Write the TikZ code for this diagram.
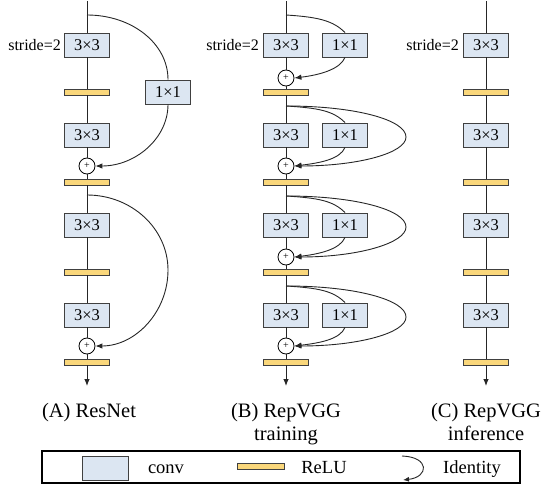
\documentclass[tikz,border=0pt]{standalone}
\usepackage{fontspec}
\setmainfont{Liberation Serif}
\usetikzlibrary{arrows.meta}
\definecolor{convfill}{HTML}{DCE6F2}
\definecolor{relufill}{HTML}{FAD77B}
\definecolor{edgegray}{HTML}{404040}
\tikzset{
 conv/.style={draw=edgegray, fill=convfill, line width=0.9pt, minimum width=45pt, minimum height=24pt, inner sep=0pt, font=\fontsize{16.5}{18}\selectfont},
 relu/.style={draw=edgegray, fill=relufill, line width=0.9pt, minimum width=45pt, minimum height=6pt, inner sep=0pt},
 sumnode/.style={draw=black, fill=white, circle, minimum size=16pt, inner sep=0pt, line width=0.8pt, font=\fontsize{10}{10}\selectfont},
 wire/.style={draw=black!85, line width=0.9pt},
 arr/.style={wire, -{Latex[length=7pt,width=5.5pt]}},
 stridelab/.style={anchor=east, inner sep=0pt, font=\fontsize{16}{18}\selectfont},
 caption/.style={anchor=base, inner sep=0pt, font=\fontsize{20.5}{23}\selectfont},
 legtext/.style={anchor=base, inner sep=0pt, font=\fontsize{18.5}{20}\selectfont},
}
\begin{document}
\begin{tikzpicture}[x=1pt,y=-1pt]
\useasboundingbox (0,0) rectangle (543,484);
% ---------- Column A : ResNet ----------
\coordinate (A0) at (87,1);
\node[conv] (Ab1) at (87,45) {3×3};
\node[relu] (Ar1) at (87,92) {};
\node[conv] (Ab2) at (87,135) {3×3};
\node[sumnode] (Ap1) at (87,166) {+};
\node[relu] (Ar2) at (87,182) {};
\node[conv] (Ab3) at (87,225) {3×3};
\node[relu] (Ar3) at (87,272) {};
\node[conv] (Ab4) at (87,315) {3×3};
\node[sumnode] (Ap2) at (87,346) {+};
\node[relu] (Ar4) at (87,362) {};
\coordinate (Aend) at (87,386);
\node[conv] (Ax1) at (168,92) {1×1};
\coordinate (As1) at (87,15);
\coordinate (As2) at (87,195);
\coordinate (Am2) at (168,270);
\node[stridelab] (Ast) at ([xshift=-3pt]Ab1.west) {stride=2};
\draw[arr] (A0) -- (Ab1) -- (Ar1) -- (Ab2) -- (Ap1) -- (Ar2) -- (Ab3) -- (Ar3) -- (Ab4) -- (Ap2) -- (Ar4) -- (Aend);
\draw[wire] (As1) .. controls +(45,0) and +(0,-36) .. (Ax1.north);
\draw[arr] (Ax1.south) .. controls +(0,34) and +(40,0) .. (Ap1.east);
\draw[wire] (As2) .. controls +(45,0) and +(0,-41) .. (Am2);
\draw[arr] (Am2) .. controls +(0,42) and +(40,0) .. (Ap2.east);
% ---------- Column B : RepVGG training ----------
\coordinate (B0) at (286,1);
\node[conv] (Bb1) at (286,45) {3×3};
\node[conv] (Bx1) at (345,45) {1×1};
\node[sumnode] (Bp1) at (286,78) {+};
\node[relu] (Br1) at (286,92) {};
\node[conv] (Bb2) at (286,135) {3×3};
\node[conv] (Bx2) at (345,135) {1×1};
\node[sumnode] (Bp2) at (286,166) {+};
\node[relu] (Br2) at (286,182) {};
\node[conv] (Bb3) at (286,225) {3×3};
\node[conv] (Bx3) at (345,225) {1×1};
\node[sumnode] (Bp3) at (286,257) {+};
\node[relu] (Br3) at (286,272) {};
\node[conv] (Bb4) at (286,315) {3×3};
\node[conv] (Bx4) at (345,315) {1×1};
\node[sumnode] (Bp4) at (286,346) {+};
\node[relu] (Br4) at (286,362) {};
\coordinate (Bend) at (286,386);
\node[stridelab] (Bst) at ([xshift=-4pt]Bb1.west) {stride=2};
\coordinate (Bs1) at (286,15);
\coordinate (Bs2) at (286,106);
\coordinate (Bs3) at (286,196);
\coordinate (Bs4) at (286,286);
\coordinate (Bm2) at (406,137);
\coordinate (Bm3) at (406,227);
\coordinate (Bm4) at (406,317);
\draw[arr] (B0) -- (Bb1) -- (Bp1) -- (Br1) -- (Bb2) -- (Bp2) -- (Br2) -- (Bb3) -- (Bp3) -- (Br3) -- (Bb4) -- (Bp4) -- (Br4) -- (Bend);
% 1x1 branches
\draw[wire] (Bs1) .. controls +(32,2) and +(-12,-12) .. (Bx1.north);
\draw[arr] (Bx1.south) .. controls +(-5,12) and +(25,-3) .. (Bp1.east);
\draw[wire] (Bs2) .. controls +(32,2) and +(-12,-12) .. (Bx2.north);
\draw[arr] (Bx2.south) .. controls +(-5,12) and +(25,-3) .. (Bp2.east);
\draw[wire] (Bs3) .. controls +(32,2) and +(-12,-12) .. (Bx3.north);
\draw[arr] (Bx3.south) .. controls +(-5,12) and +(25,-3) .. (Bp3.east);
\draw[wire] (Bs4) .. controls +(32,2) and +(-12,-12) .. (Bx4.north);
\draw[arr] (Bx4.south) .. controls +(-5,12) and +(25,-3) .. (Bp4.east);
% identity loops
\draw[wire] (Bs2) .. controls +(70,0) and +(0,-17) .. (Bm2);
\draw[arr] (Bm2) .. controls +(0,16) and +(64,0) .. (Bp2.east);
\draw[wire] (Bs3) .. controls +(70,0) and +(0,-17) .. (Bm3);
\draw[arr] (Bm3) .. controls +(0,16) and +(64,0) .. (Bp3.east);
\draw[wire] (Bs4) .. controls +(70,0) and +(0,-17) .. (Bm4);
\draw[arr] (Bm4) .. controls +(0,16) and +(64,0) .. (Bp4.east);
% ---------- Column C : RepVGG inference ----------
\coordinate (C0) at (486,1);
\node[conv] (Cb1) at (486,45) {3×3};
\node[relu] (Cr1) at (486,92) {};
\node[conv] (Cb2) at (486,135) {3×3};
\node[relu] (Cr2) at (486,182) {};
\node[conv] (Cb3) at (486,225) {3×3};
\node[relu] (Cr3) at (486,272) {};
\node[conv] (Cb4) at (486,315) {3×3};
\node[relu] (Cr4) at (486,362) {};
\coordinate (Cend) at (486,386);
\node[stridelab] (Cst) at ([xshift=-4pt]Cb1.west) {stride=2};
\draw[arr] (C0) -- (Cb1) -- (Cr1) -- (Cb2) -- (Cr2) -- (Cb3) -- (Cr3) -- (Cb4) -- (Cr4) -- (Cend);
% ---------- captions ----------
\node[caption] (Acap) at (89,417) {(A) ResNet};
\node[caption] (Bcap) at (286,417) {(B) RepVGG};
\node[caption] (Bcap2) at (286,440) {training};
\node[caption] (Ccap) at (486,417) {(C) RepVGG};
\node[caption] (Ccap2) at (486,440) {inference};
% ---------- legend ----------
\node[draw=black, line width=1.6pt, minimum width=478pt, minimum height=32pt, inner sep=0pt] (legend) at (281,467) {};
\node[conv, minimum width=46pt] (Lconv) at (105,468) {};
\node[legtext] (Lconvt) at (166,473) {conv};
\node[relu, minimum width=47pt] (Lrelu) at (261,466) {};
\node[legtext] (Lrelut) at (324,473) {ReLU};
\coordinate (Li1) at (402,456);
\coordinate (Li2) at (403,480);
\draw[wire, -{Latex[length=6pt,width=5pt]}] (Li1) .. controls (430,457) and (429,477) .. (Li2);
\node[legtext] (Lidt) at (472,473) {Identity};
\end{tikzpicture}
\end{document}
